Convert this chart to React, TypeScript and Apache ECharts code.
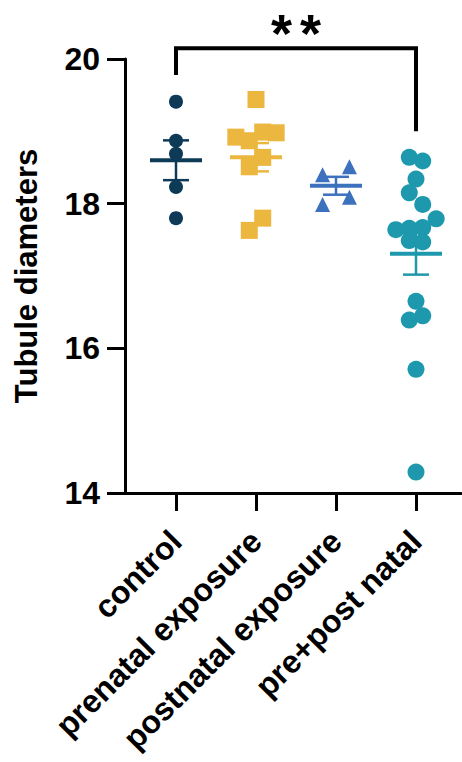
import React, { useEffect, useRef } from 'react';
import * as echarts from 'echarts';

// ---- data ----
const categories = ['control', 'prenatal exposure', 'postnatal exposure', 'pre+post natal'];
const yMin = 14;
const yMax = 20;
const yStep = 2;

const controlValues = [19.41, 18.87, 18.69, 18.23, 17.8];
const controlSlots = [0, 0, 0, 0, 0];

const prenatalValues = [19.44, 18.92, 18.87, 18.99, 18.98, 18.64, 18.51, 17.8, 17.63];
const prenatalSlots = [0, -3, -1, 1, 3, 1, -1, 1, -1];

const postnatalValues = [18.4, 18.51, 18.09, 17.99];
const postnatalSlots = [-2, 2, 2, -2];

const prePostValues = [
  18.64, 18.59, 18.34, 18.15, 17.99, 17.79, 17.64, 17.66, 17.67, 17.49, 17.47, 16.65, 16.39, 16.45,
  15.71, 14.29,
];
const prePostSlots = [-1, 1, 0, -1, 1, 3, -3, -1, 1, -1, 1, 0, -1, 1, 0, 0];

// significance bracket (control vs pre+post natal)
const bracketFrom = 0;
const bracketTo = 3;
const bracketTopValue = 20.15;
const bracketLeftEnd = 19.78;
const bracketRightEnd = 19.0;
const significanceStars = ['*', '*'];

// ---- styling ----
const FONT = '"Liberation Sans", Arial, Helvetica, sans-serif';
const SLOT = 0.084; // jitter slot width in category units
const groups = [
  { values: controlValues, slots: controlSlots, color: '#0c3a57', symbol: 'circle', size: 14 },
  { values: prenatalValues, slots: prenatalSlots, color: '#ebb73f', symbol: 'rect', size: 17 },
  { values: postnatalValues, slots: postnatalSlots, color: '#3b71bd', symbol: 'triangle', size: 15 },
  { values: prePostValues, slots: prePostSlots, color: '#1d98ac', symbol: 'circle', size: 17 },
];

const stats = groups.map((g) => {
  const n = g.values.length;
  const mean = g.values.reduce((a, b) => a + b, 0) / n;
  const sd = Math.sqrt(g.values.reduce((a, b) => a + (b - mean) * (b - mean), 0) / (n - 1));
  return { mean, sem: sd / Math.sqrt(n) };
});

export default function App() {
  const ref = useRef<HTMLDivElement>(null);

  useEffect(() => {
    if (!ref.current) return;
    const chart = echarts.init(ref.current, undefined, { renderer: 'svg' });
    const catIdx = categories.map((_, i) => i);

    const scatterSeries = groups.map((g, gi) => ({
      type: 'scatter',
      name: categories[gi],
      symbol: g.symbol,
      symbolSize: g.size,
      itemStyle: { color: g.color, opacity: 1 },
      z: 3,
      data: g.values.map((v, i) => [gi + g.slots[i] * SLOT, v]),
    }));

    const option: any = {
      animation: false,
      grid: { left: 125, right: 1, top: 59, bottom: 269, containLabel: false, outerBoundsMode: 'none' },
      xAxis: {
        type: 'value',
        min: -0.6375,
        max: 3.5625,
        splitLine: { show: false },
        axisLine: { show: true, onZero: false, lineStyle: { color: '#000', width: 3 } },
        axisTick: { show: true, customValues: catIdx, length: 18, lineStyle: { color: '#000', width: 3 } },
        axisLabel: {
          customValues: catIdx,
          formatter: (v: number) => categories[Math.round(v)] ?? '',
          rotate: 45,
          margin: 43,
          color: '#000',
          fontSize: 32,
          fontWeight: 'bold',
          fontFamily: FONT,
        },
      },
      yAxis: {
        type: 'value',
        min: yMin,
        max: yMax,
        interval: yStep,
        name: 'Tubule diameters',
        nameLocation: 'middle',
        nameGap: 83,
        nameTextStyle: { color: '#000', fontSize: 31, fontWeight: 'bold', fontFamily: FONT },
        splitLine: { show: false },
        axisLine: { show: true, onZero: false, lineStyle: { color: '#000', width: 3 } },
        axisTick: { show: true, length: 18, lineStyle: { color: '#000', width: 3 } },
        axisLabel: { margin: 25, color: '#000', fontSize: 32, fontWeight: 'bold', fontFamily: FONT },
      },
      series: [
        {
          type: 'custom',
          name: 'sem',
          z: 2,
          encode: { x: 0, y: 1 },
          data: stats.map((s, i) => [i, s.mean, s.mean - s.sem, s.mean + s.sem]),
          renderItem: (params: any, api: any) => {
            const color = groups[params.dataIndex].color;
            const x = api.value(0);
            const lo = api.coord([x, api.value(2)]);
            const hi = api.coord([x, api.value(3)]);
            const st = { stroke: color, lineWidth: 2.5 };
            return {
              type: 'group',
              children: [
                { type: 'line', shape: { x1: lo[0], y1: lo[1], x2: hi[0], y2: hi[1] }, style: st },
                { type: 'line', shape: { x1: lo[0] - 13, y1: lo[1], x2: lo[0] + 13, y2: lo[1] }, style: st },
                { type: 'line', shape: { x1: hi[0] - 13, y1: hi[1], x2: hi[0] + 13, y2: hi[1] }, style: st },
              ],
            };
          },
        },
        ...scatterSeries,
        {
          type: 'custom',
          name: 'mean',
          z: 4,
          encode: { x: 0, y: 1 },
          data: stats.map((s, i) => [i, s.mean]),
          renderItem: (params: any, api: any) => {
            const color = groups[params.dataIndex].color;
            const p = api.coord([api.value(0), api.value(1)]);
            return {
              type: 'line',
              shape: { x1: p[0] - 26, y1: p[1], x2: p[0] + 26, y2: p[1] },
              style: { stroke: color, lineWidth: 4 },
            };
          },
        },
      ],
    };
    chart.setOption(option);

    const px = (x: number, y: number) => chart.convertToPixel({ gridIndex: 0 }, [x, y]) as number[];
    const a = px(bracketFrom, bracketLeftEnd);
    const b = px(bracketFrom, bracketTopValue);
    const c = px(bracketTo, bracketTopValue);
    const d = px(bracketTo, bracketRightEnd);
    const mid = (b[0] + c[0]) / 2;
    chart.setOption({
      graphic: [
        {
          type: 'polyline',
          shape: { points: [a, b, c, d] },
          style: { stroke: '#000', lineWidth: 4, fill: null, lineJoin: 'miter' },
        },
        ...significanceStars.map((s, i) => ({
          type: 'text',
          x: mid + (i - (significanceStars.length - 1) / 2) * 29,
          y: 33,
          style: {
            text: s,
            fill: '#000',
            font: `bold 54px ${FONT}`,
            textAlign: 'center',
            textVerticalAlign: 'middle',
          },
        })),
      ],
    });

    return () => chart.dispose();
  }, []);

  return (
    <div
      ref={ref}
      style={{ position: 'fixed', left: 0, top: 0, width: 462, height: 762, background: '#fff' }}
    />
  );
}
